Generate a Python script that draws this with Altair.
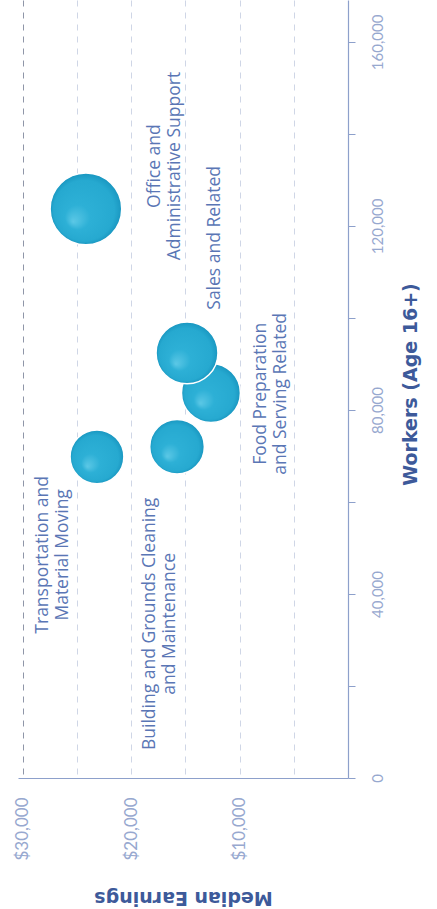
import altair as alt
import pandas as pd

# ---- data ----
occupations = [
    "Transportation and Material Moving",
    "Building and Grounds Cleaning and Maintenance",
    "Food Preparation and Serving Related",
    "Sales and Related",
    "Office and Administrative Support",
]
label_text = [
    "Transportation and\nMaterial Moving",
    "Building and Grounds Cleaning\nand Maintenance",
    "Food Preparation\nand Serving Related",
    "Sales and Related",
    "Office and\nAdministrative Support",
]
workers = [69800, 72000, 83700, 92400, 123700]
median_earnings = [23170, 15780, 12650, 14860, 24190]
label_workers = [48500, 33500, 83500, 117400, 133000]
label_earnings = [28150, 18280, 8030, 12280, 17820]

earn_ticks = [5000, 10000, 15000, 20000, 25000, 30000]
worker_ticks = [0, 20000, 40000, 60000, 80000, 100000, 120000, 140000, 160000]

bubbles = pd.DataFrame({"occupation": occupations, "workers": workers,
                        "earnings": median_earnings})
labels = pd.DataFrame({"label": label_text, "lw": label_workers,
                       "le": label_earnings})

FONT = "Lato"
TEXT_FONT = "Open Sans"
TITLE_FONT = "DejaVu Sans"
x_scale = alt.Scale(domain=[0, 30460], reverse=True, nice=False, zero=True)
y_scale = alt.Scale(domain=[0, 169100], nice=False, zero=True)

grad = alt.RadialGradient(
    gradient="radial",
    x1=0.32, y1=0.68, r1=0.0,
    x2=0.5, y2=0.5, r2=0.5,
    stops=[
        alt.GradientStop(color="#5cc8e6", offset=0.0),
        alt.GradientStop(color="#2db0d6", offset=0.35),
        alt.GradientStop(color="#26a9d0", offset=0.85),
        alt.GradientStop(color="#1996c0", offset=1.0),
    ],
)

x_enc = alt.X(
    "earnings:Q", scale=x_scale,
    axis=alt.Axis(
        title="Median Earnings", orient="bottom", values=earn_ticks,
        labelExpr="datum.value % 10000 == 0 ? '$' + format(datum.value, ',') : ''",
        labelAngle=270, labelAlign="right", labelBaseline="middle",
        labelPadding=19, labelFontSize=17, labelFont=FONT, labelColor="#97a8cf",
        ticks=False, tickSize=0,
        domainColor="#8da0cb", domainWidth=1.2,
        grid=True, gridDash=[6, 6], gridWidth=1,
        gridColor=alt.condition("datum.value == 30000", alt.value("#8f96a8"), alt.value("#cfd6e6")),
        titleAngle=180, titleAlign="center", titleBaseline="middle",
        titleY=119, titleFontSize=19, titleFont=TITLE_FONT, titleFontWeight="bold",
        titleColor="#3d5a9a",
    ),
)
y_enc = alt.Y(
    "workers:Q", scale=y_scale,
    axis=alt.Axis(
        title="Workers (Age 16+)", orient="right", values=worker_ticks,
        labelExpr="datum.value % 40000 == 0 ? format(datum.value, ',') : ''",
        labelAngle=270, labelAlign="center", labelBaseline="top",
        labelPadding=15, labelFontSize=15, labelFont=FONT, labelColor="#97a8cf",
        tickSize=7, tickColor="#8da0cb", domainColor="#8da0cb", domainWidth=1.2,
        grid=False,
        titleAngle=270, titleAlign="center", titleBaseline="middle",
        titleX=62, titleY=384, titleFontSize=19, titleFont=TITLE_FONT,
        titleFontWeight="bold", titleColor="#3d5a9a",
    ),
)

points = alt.Chart(bubbles).mark_circle(
    fill=grad, stroke="white", strokeWidth=1.5, opacity=1, fillOpacity=1
).encode(
    x=x_enc,
    y=y_enc,
    size=alt.Size("workers:Q", scale=alt.Scale(domain=[0, 100000], range=[0, 4150]),
                  legend=None),
    order=alt.Order("workers:Q"),
)

texts = alt.Chart(labels).mark_text(
    angle=270, align="center", baseline="middle", lineBreak="\n",
    lineHeight=20, fontSize=17.5, font=TEXT_FONT, color="#5a76b5",
).encode(
    x=alt.X("le:Q", scale=x_scale),
    y=alt.Y("lw:Q", scale=y_scale),
    text="label:N",
)

chart = alt.layer(points, texts).properties(
    width=330, height=778,
    autosize=alt.AutoSizeParams(type="none"),
    padding={"left": 18, "top": 0, "right": 89, "bottom": 131},
    background="white",
).configure_view(stroke=None)

chart.save("out.html", embed_options={"renderer": "svg", "actions": False})
